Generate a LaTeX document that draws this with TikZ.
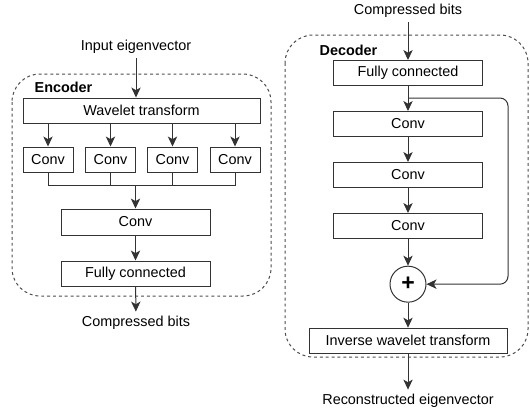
\documentclass[tikz,border=0pt]{standalone}
\usepackage{fontspec}
\setmainfont{Liberation Sans}
\usepackage{tikz}
\usetikzlibrary{shapes,arrows.meta,positioning}

\begin{document}
\begin{tikzpicture}[x=0.75pt, y=-0.75pt, node distance=18.75pt,
  font=\fontsize{10.8}{12}\selectfont,
  block/.style={rectangle, draw=black!80, line width=0.75pt, minimum width=111.75pt, minimum height=18.75pt, inner sep=0pt},
  small/.style={block, minimum width=37.5pt},
  sum/.style={circle, draw=black!80, line width=0.75pt, minimum size=27pt, inner sep=0pt, font=\LARGE\bfseries},
  group/.style={draw=black!70, line width=0.75pt, dash pattern=on 2.2pt off 2.2pt, rounded corners=21pt},
  title/.style={anchor=west, font=\fontsize{10.8}{12}\selectfont\bfseries},
  line/.style={draw=black!80, line width=0.75pt, -{Stealth[length=7.5pt, width=7pt, inset=2pt]}}]

  \useasboundingbox (0,0) rectangle (530,412);

  % Encoder
  \draw [group] (12,74) rectangle (271,296);
  \node [title] (enctitle) at (30,87) {Encoder};
  \node (input) at (136,47) {Input eigenvector};
  \node [block, minimum width=177.75pt] (wavelet) at (141.5,110.5) {Wavelet transform};
  \node [small] (conva) at (48,159.5) {Conv};
  \node [small] (convb) at (110.5,159.5) {Conv};
  \node [small] (convc) at (172.5,159.5) {Conv};
  \node [small] (convd) at (235,159.5) {Conv};
  \coordinate (merge) at (135.5,185);
  \node [block, minimum height=19.5pt] (convm) at (135.5,222) {Conv};
  \node [block, below=of convm] (encfc) {Fully connected};
  \node (encout) at (136,323) {Compressed bits};

  \path [line] (input) -- (input |- wavelet.north);
  \foreach \c in {conva,convb,convc,convd}
    \path [line] (\c.north |- wavelet.south) -- (\c.north);
  \draw [black!80, line width=0.75pt] (conva.south) |- (merge) -| (convd.south);
  \draw [black!80, line width=0.75pt] (convb.south) -- (convb.south |- merge);
  \draw [black!80, line width=0.75pt] (convc.south) -- (convc.south |- merge);
  \path [line] (merge) -- (convm);
  \path [line] (convm) -- (encfc);
  \path [line] (encfc) -- (encout);

  % Decoder
  \draw [group] (285,35) rectangle (528,357);
  \node [title] (dectitle) at (315,50) {Decoder};
  \node (decin) at (408,11) {Compressed bits};
  \node [block] (decfc) at (408,73) {Fully connected};
  \node [block, below=of decfc] (conv1) {Conv};
  \node [block, below=of conv1] (conv2) {Conv};
  \node [block, below=of conv2] (conv3) {Conv};
  \node [sum, below=20pt of conv3] (plus) {+};
  \node [block, below=of plus, minimum width=148.5pt] (inverse) {Inverse wavelet transform};
  \node (recon) at (408,401) {Reconstructed eigenvector};
  \coordinate (split) at (408,98);
  \coordinate (skip) at (508,98);

  \path [line] (decin) -- (decfc);
  \path [line] (decfc) -- (conv1);
  \path [line] (conv1) -- (conv2);
  \path [line] (conv2) -- (conv3);
  \path [line] (conv3) -- (plus);
  \path [line, rounded corners=6pt] (split) -- (skip) |- (plus.east);
  \path [line] (plus) -- (inverse);
  \path [line] (inverse) -- (recon);

\end{tikzpicture}
\end{document}
